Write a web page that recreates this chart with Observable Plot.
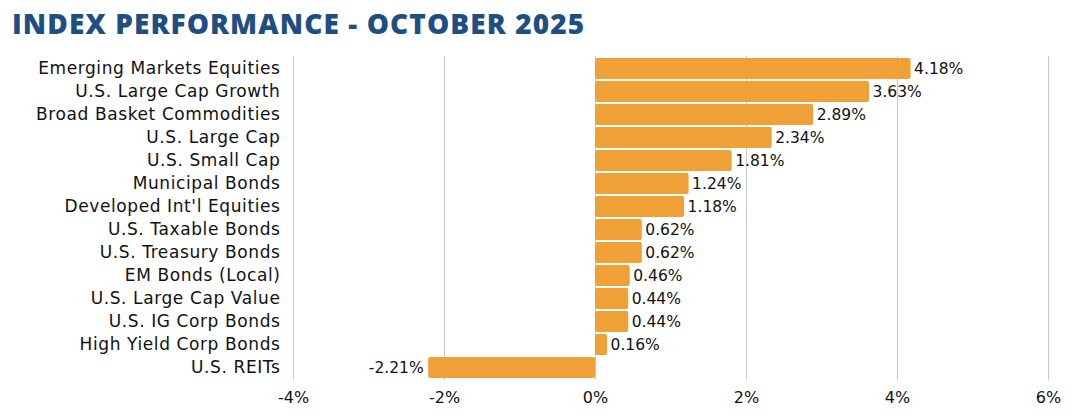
<!DOCTYPE html>
<html><head><meta charset="utf-8">
<script src="https://cdn.jsdelivr.net/npm/d3@7"></script>
<script src="https://cdn.jsdelivr.net/npm/@observablehq/plot@0.6"></script>
<style>
body{margin:0;background:#fff;}
#title{font-family:"Open Sans",sans-serif;font-weight:800;font-size:28px;color:#1f4e82;height:48px;line-height:46px;padding-left:12px;letter-spacing:1.1px;}
svg{display:block;}
g.ylab text{letter-spacing:0.6px;}
</style></head><body>
<div id="title">INDEX PERFORMANCE - OCTOBER 2025</div>
<div id="chart"></div>
<script>
const categories = ["Emerging Markets Equities","U.S. Large Cap Growth","Broad Basket Commodities","U.S. Large Cap","U.S. Small Cap","Municipal Bonds","Developed Int'l Equities","U.S. Taxable Bonds","U.S. Treasury Bonds","EM Bonds (Local)","U.S. Large Cap Value","U.S. IG Corp Bonds","High Yield Corp Bonds","U.S. REITs"];
const values = [4.18,3.63,2.89,2.34,1.81,1.24,1.18,0.62,0.62,0.46,0.44,0.44,0.16,-2.21];
const xTicks = [-4,-2,0,2,4,6];
const data = categories.map((c,i)=>({name:c, value:values[i]}));
const fmt = v => v.toFixed(2) + "%";
const chart = Plot.plot({
  width:1078, height:372,
  marginLeft:293, marginRight:30, marginTop:8, marginBottom:40,
  style:{fontFamily:"DejaVu Sans, sans-serif", fontSize:"16px", color:"#111"},
  x:{domain:[-4,6], ticks:xTicks, tickFormat:d=>d+"%", label:null},
  y:{domain:categories, label:null, paddingInner:0.09, paddingOuter:0.02},
  marks:[
    Plot.ruleX(xTicks,{stroke:"#c8c8c8", strokeWidth:1}),
    Plot.barX(data,{x:"value", y:"name", fill:"#efa036", rx:2}),
    Plot.text(data.filter(d=>d.value>=0),{x:"value", y:"name", text:d=>fmt(d.value), textAnchor:"start", dx:3, fill:"#111", fontSize:15.5}),
    Plot.text(data.filter(d=>d.value<0),{x:"value", y:"name", text:d=>fmt(d.value), textAnchor:"end", dx:-5, fill:"#111", fontSize:15.5}),
    Plot.axisY({tickSize:0, tickPadding:13, fontSize:17, fill:"#111", className:"ylab"}),
    Plot.axisX({ticks:xTicks, tickSize:0, tickPadding:11, fontSize:16, fill:"#111", tickFormat:d=>d+"%", label:null})
  ]
});
chart.querySelectorAll("g[aria-label='y-axis tick label']").forEach(g=>g.setAttribute("letter-spacing","0.6px"));
document.getElementById("chart").appendChild(chart);
</script>
</body></html>
